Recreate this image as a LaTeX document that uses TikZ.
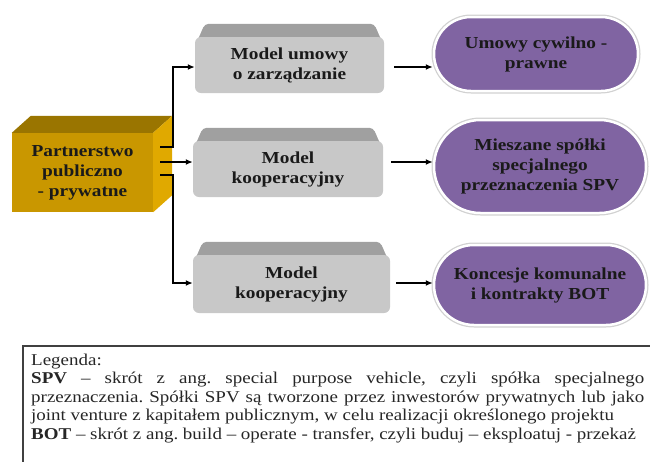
\documentclass[tikz,border=0pt]{standalone}
\usepackage{fontspec}
\setmainfont{Liberation Serif}[FakeStretch=1.15]
\usetikzlibrary{arrows.meta,positioning,shapes.misc,backgrounds,calc}
\definecolor{gold}{HTML}{C99700}
\definecolor{goldtop}{HTML}{9A7500}
\definecolor{goldside}{HTML}{E0A900}
\definecolor{greyface}{HTML}{C8C8C8}
\definecolor{greytop}{HTML}{A0A0A0}
\definecolor{violet}{HTML}{8064A2}
\definecolor{inkdark}{HTML}{1A1A1A}
\definecolor{frame}{HTML}{404040}
\frenchspacing

\begin{document}
\begin{tikzpicture}[x=1pt,y=-1pt,
 font=\fontsize{16.8}{20}\selectfont\bfseries,
 partner/.style={fill=gold,align=center,minimum width=141pt,minimum height=79pt,
 inner sep=0pt,text=inkdark},
 model/.style={fill=greyface,rounded corners=6pt,align=center,minimum height=56pt,
 inner sep=0pt,text=inkdark},
 result/.style={rounded rectangle,fill=violet,draw=white,line width=2.5pt,
 preaction={draw=black!18,line width=5pt},align=center,inner sep=0pt,text=inkdark},
 flow/.style={-{Latex[length=7pt,width=6pt]},line width=1.4pt},
 bevel/.style={fill=greytop,rounded corners=4pt}]
\useasboundingbox (0,0) rectangle (650,461);

% left block
\node[partner] (pp) at (82.5,172.5) {Partnerstwo\\publiczno\\- prywatne};
\fill[goldtop] (pp.north west) -- ++(19pt,17pt) -- ([shift={(19pt,17pt)}]pp.north east)
 -- (pp.north east) -- cycle;
\fill[goldside] (pp.north east) -- ++(19pt,17pt) -- ([shift={(19pt,17pt)}]pp.south east)
 -- (pp.south east) -- cycle;

% models
\node[model,minimum width=189pt] (g1) at (289.5,65) {Model umowy\\o zarządzanie};
\node[model,minimum width=190pt] (g2) at (288,169) {Model\\kooperacyjny};
\node[model,minimum width=197pt,minimum height=58pt] (g3) at (291.5,284) {Model\\kooperacyjny};
\begin{scope}[on background layer]
\foreach \g in {g1,g2,g3}
 \fill[bevel] ([yshift=-10pt]\g.north west) -- ([shift={(10pt,13pt)}]\g.north west)
 -- ([shift={(-10pt,13pt)}]\g.north east) -- ([yshift=-10pt]\g.north east) -- cycle;
\end{scope}

% results
\node[result,minimum width=204pt,minimum height=74pt] (p1) at (536,54) {Umowy cywilno -\\prawne};
\node[result,minimum width=212pt,minimum height=93pt] (p2) at (540,166.5)
 {Mieszane spółki\\specjalnego\\przeznaczenia SPV};
\node[result,minimum width=212pt,minimum height=80pt] (p3) at (540,285)
 {Koncesje komunalne\\i kontrakty BOT};

% connectors
\coordinate (s1) at ([shift={(7pt,25.5pt)}]pp.east);
\coordinate (s2) at ([shift={(7pt,10.5pt)}]pp.east);
\coordinate (s3) at ([shift={(7pt,-2.5pt)}]pp.east);
\coordinate (t1) at (173,67);
\coordinate (t3) at (173,283);
\draw[flow] (s1) -| (t1) -- (g1.west |- t1);
\draw[flow] (s2) -- (g2.west |- s2);
\draw[flow] (s3) -| (t3) -- (g3.west |- t3);
\draw[flow] ([xshift=10pt]g1.east |- t1) -- (p1.west |- t1);
\draw[flow] ([xshift=8pt]g2.east |- s2) -- (p2.west |- s2);
\draw[flow] ([xshift=6pt]g3.east |- t3) -- (p3.west |- t3);

% legend
\draw[frame,line width=1.2pt] (23,462) -- (23,346) -- (652,346);
\node[font=\fontsize{16.5}{18.5}\selectfont\mdseries,text width=613pt,align=justify,
 anchor=base west,inner sep=0pt,text=black!85] (legend) at (31,365)
 {Legenda:\\
 \textbf{SPV} – skrót z ang. special purpose vehicle, czyli spółka specjalnego\linebreak
 przeznaczenia. Spółki SPV są tworzone przez inwestorów prywatnych lub jako\linebreak
 joint venture z kapitałem publicznym, w celu realizacji określonego projektu\\
 \textbf{BOT} – skrót z ang. build – operate - transfer, czyli buduj – eksploatuj - przekaż};
\end{tikzpicture}
\end{document}
